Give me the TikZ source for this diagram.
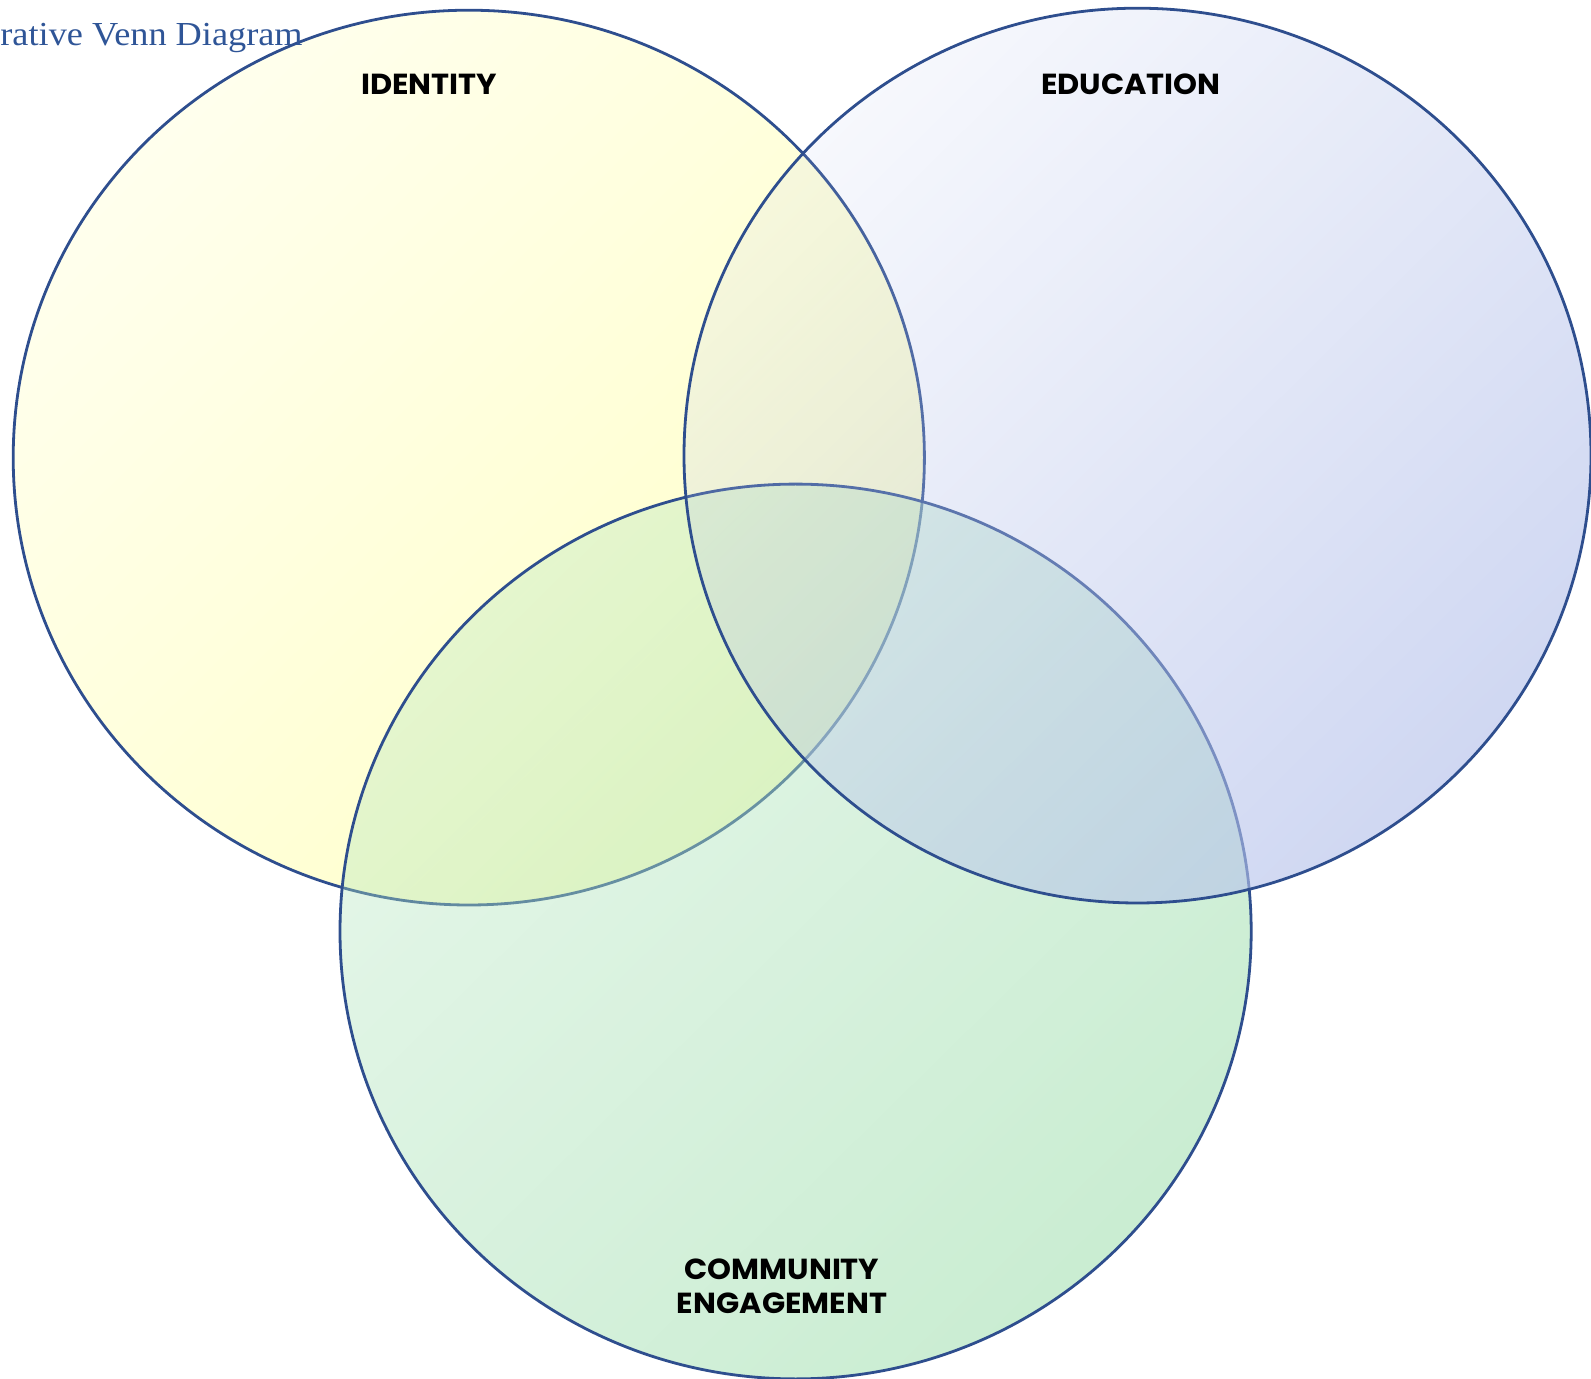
\documentclass[tikz,border=0pt]{standalone}
\usepackage{fontspec}
\setmainfont{Liberation Serif}[FakeStretch=1.08]
\newfontfamily\labelfont{Poppins}[FakeStretch=1.05]
\usepackage{tikz}
\usetikzlibrary{fadings}
\usetikzlibrary{positioning}
\definecolor{vennline}{RGB}{46,78,142}
\definecolor{titleblue}{RGB}{47,85,151}
\definecolor{identityfill}{RGB}{255,255,185}
\definecolor{educationfill}{RGB}{183,195,235}
\definecolor{communityfill}{RGB}{176,228,188}
%% diagonal fadings, light at the top left
\begin{tikzfadingfrompicture}[name=identity fade]
  \shade [top color=transparent!78, bottom color=transparent!20, shading angle=45] (-1cm,-1cm) rectangle (1cm,1cm);
\end{tikzfadingfrompicture}
\begin{tikzfadingfrompicture}[name=community fade]
  \shade [top color=transparent!70, bottom color=transparent!30, shading angle=45] (-1cm,-1cm) rectangle (1cm,1cm);
\end{tikzfadingfrompicture}
\begin{tikzfadingfrompicture}[name=education fade]
  \shade [top color=transparent!92, bottom color=transparent!30, shading angle=45] (-1cm,-1cm) rectangle (1cm,1cm);
\end{tikzfadingfrompicture}
\tikzset{vennedge/.style={draw=vennline, line width=1.4pt}, setlabel/.style={font=\labelfont\bfseries\fontsize{14.5}{17}\selectfont, text=black, inner sep=0pt, anchor=base, align=center}}

\begin{document}
\begin{tikzpicture}[x=0.5pt,y=-0.5pt]
\useasboundingbox (0,0) rectangle (1591,1379);
%%
  \fill [identityfill, path fading=identity fade] (468.8,457.6) ellipse [x radius=455.6, y radius=447.4];
  \path [vennedge] (468.8,457.6) ellipse [x radius=455.6, y radius=447.4];
  \fill [communityfill, path fading=community fade] (795.6,931.5) ellipse [x radius=455.6, y radius=447.4];
  \path [vennedge] (795.6,931.5) ellipse [x radius=455.6, y radius=447.4];
  \fill [educationfill, path fading=education fade] (1137.5,455.6) ellipse [x radius=453.5, y radius=447.4];
  \path [vennedge] (1137.5,455.6) ellipse [x radius=453.5, y radius=447.4];
%
  \node (title) at (0,46) [anchor=base west, inner sep=0pt, text=titleblue, font=\fontsize{16.8}{19}\selectfont] {rative Venn Diagram};
  \node (identity) at (429,95) [setlabel] {IDENTITY};
  \node (education) at (1131,95) [setlabel] {EDUCATION};
  \node (community) at (782,1313) [setlabel] {COMMUNITY\\ENGAGEMENT};
%
\end{tikzpicture}
\end{document}
